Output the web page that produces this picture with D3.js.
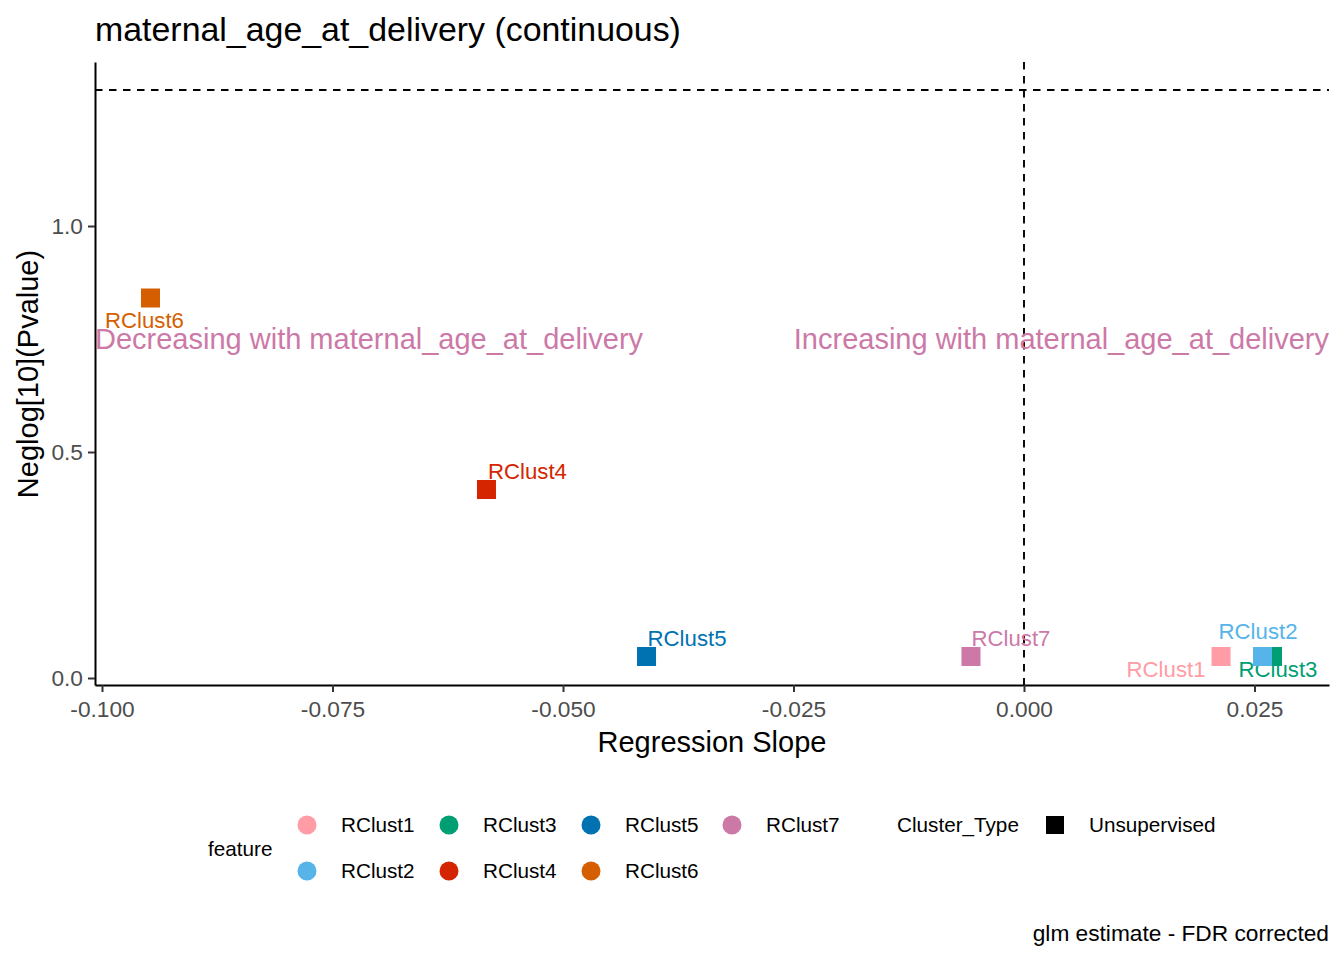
<!DOCTYPE html>
<html>
<head>
<meta charset="utf-8">
<script src="https://cdn.jsdelivr.net/npm/d3@7"></script>
<style>
  body { margin: 0; background: #fff; }
  svg { font-family: "Liberation Sans", Arial, sans-serif; }
</style>
</head>
<body>
<svg id="chart" width="1344" height="960"></svg>
<script>
// chart values
const features = ["RClust1", "RClust2", "RClust3", "RClust4", "RClust5", "RClust6", "RClust7"]
const slopes = [0.02137, 0.02587, 0.02695, -0.05830, -0.04094, -0.09474, -0.00575]
const neglogP = [0.0476, 0.0476, 0.0476, 0.417, 0.0476, 0.8407, 0.0476]
const xTicks = [-0.100, -0.075, -0.050, -0.025, 0.000, 0.025]
const yTicks = [0.0, 0.5, 1.0]
const fdrLine = -Math.log10(0.05)

const palette = ["#FF9CA5", "#56B4E9", "#009E73", "#D42500", "#0072B2", "#D55E00", "#CC79A7"]

// label placement (repel-like offsets in px from the point)
const labelOffsets = {
    RClust1: [-55, 20.5], RClust2: [-4.5, -17.5], RClust3: [5.5, 20.5],
    RClust4: [41, -10.5], RClust5: [40.5, -10.5], RClust6: [-6, 30],
    RClust7: [40, -10.5]
}

const margin = { top: 62, right: 15, bottom: 275, left: 95 }
const W = 1344, H = 960
const width = W - margin.left - margin.right
const height = H - margin.top - margin.bottom

const svg = d3.select('#chart')
const g = svg.append('g').attr('transform', `translate(${margin.left},${margin.top})`)

const xScale = d3.scaleLinear().domain([-0.100759, 0.03308]).range([0, width])
const yScale = d3.scaleLinear().domain([-0.01549, 1.36283]).range([height, 0])
const color = d3.scaleOrdinal().domain(features).range(palette)

const data = features.map((f, i) => ({ feature: f, x: slopes[i], y: neglogP[i] }))

// reference lines
g.append('line')
    .attr('x1', 0).attr('x2', width)
    .attr('y1', yScale(fdrLine)).attr('y2', yScale(fdrLine))
    .attr('stroke', '#000').attr('stroke-width', 1.9).attr('stroke-dasharray', '7.5,6.5')
g.append('line')
    .attr('x1', xScale(0)).attr('x2', xScale(0))
    .attr('y1', 0).attr('y2', height)
    .attr('stroke', '#000').attr('stroke-width', 1.9).attr('stroke-dasharray', '7.5,6.5')

// labels
g.selectAll('.lab')
    .data(data)
    .join('text')
        .attr('class', 'lab')
        .attr('x', d => xScale(d.x) + labelOffsets[d.feature][0])
        .attr('y', d => yScale(d.y) + labelOffsets[d.feature][1])
        .attr('text-anchor', 'middle')
        .attr('font-size', 22.2)
        .attr('fill', d => color(d.feature))
        .text(d => d.feature)

// points (squares), drawn last-to-first
const sq = 19
g.selectAll('.pt')
    .data(data.slice().reverse())
    .join('rect')
        .attr('class', 'pt')
        .attr('x', d => xScale(d.x) - sq / 2)
        .attr('y', d => yScale(d.y) - sq / 2)
        .attr('width', sq).attr('height', sq)
        .attr('fill', d => color(d.feature))

// annotations
g.append('text')
    .attr('x', 0).attr('y', yScale(0.75)).attr('dy', '0.35em')
    .attr('font-size', 29).attr('fill', '#CC79A7')
    .text('Decreasing with maternal_age_at_delivery')
g.append('text')
    .attr('x', width).attr('y', yScale(0.75)).attr('dy', '0.35em')
    .attr('text-anchor', 'end')
    .attr('font-size', 29).attr('fill', '#CC79A7')
    .text('Increasing with maternal_age_at_delivery')

// axes
const fmtX = d => d3.format('.3f')(d).replace('−', '-')
const fmtY = d => d3.format('.1f')(d).replace('−', '-')
const xAxis = d3.axisBottom(xScale).tickValues(xTicks).tickFormat(fmtX).tickSize(7).tickSizeOuter(0)
const yAxis = d3.axisLeft(yScale).tickValues(yTicks).tickFormat(fmtY).tickSize(7).tickSizeOuter(0)

const xAxisGroup = g.append('g').attr('transform', `translate(0,${height})`).call(xAxis)
const yAxisGroup = g.append('g').call(yAxis)

;[xAxisGroup, yAxisGroup].forEach(ax => {
    ax.select('.domain').attr('stroke', '#000').attr('stroke-width', 2)
    ax.selectAll('.tick line').attr('stroke', '#333').attr('stroke-width', 2)
    ax.selectAll('.tick text').attr('fill', '#4D4D4D').attr('font-size', 22.7)
        .attr('font-family', '"Liberation Sans", Arial, sans-serif')
})
xAxisGroup.selectAll('.tick text').attr('dy', '0.71em').attr('y', 16)
yAxisGroup.selectAll('.tick text').attr('x', -12)

// axis titles
svg.append('text')
    .attr('x', margin.left + width / 2).attr('y', 752)
    .attr('text-anchor', 'middle').attr('font-size', 29)
    .text('Regression Slope')
svg.append('text')
    .attr('transform', 'translate(38,374) rotate(-90)')
    .attr('text-anchor', 'middle').attr('font-size', 29)
    .text('Neglog[10](Pvalue)')

// title
svg.append('text')
    .attr('x', 95).attr('y', 41)
    .attr('font-size', 33.9)
    .text('maternal_age_at_delivery (continuous)')

// caption
svg.append('text')
    .attr('x', 1329).attr('y', 941)
    .attr('text-anchor', 'end').attr('font-size', 22.7)
    .text('glm estimate - FDR corrected')

// legend: feature
const legend = svg.append('g')
legend.append('text')
    .attr('x', 208).attr('y', 849).attr('dy', '0.35em')
    .attr('font-size', 20.7).text('feature')

const legCols = [307, 449, 591, 732]
const legRows = [825, 871]
const items = legend.selectAll('.leg')
    .data(features)
    .join('g')
        .attr('class', 'leg')
        .attr('transform', (d, i) => `translate(${legCols[Math.floor(i / 2)]},${legRows[i % 2]})`)
items.append('circle').attr('r', 9.5).attr('fill', d => color(d))
items.append('text')
    .attr('x', 34).attr('dy', '0.35em')
    .attr('font-size', 20.7).text(d => d)

// legend: Cluster_Type
legend.append('text')
    .attr('x', 897).attr('y', 825).attr('dy', '0.35em')
    .attr('font-size', 20.7).text('Cluster_Type')
legend.append('rect')
    .attr('x', 1046).attr('y', 816).attr('width', 18).attr('height', 18)
    .attr('fill', '#000')
legend.append('text')
    .attr('x', 1089).attr('y', 825).attr('dy', '0.35em')
    .attr('font-size', 20.7).text('Unsupervised')
</script>
</body>
</html>
